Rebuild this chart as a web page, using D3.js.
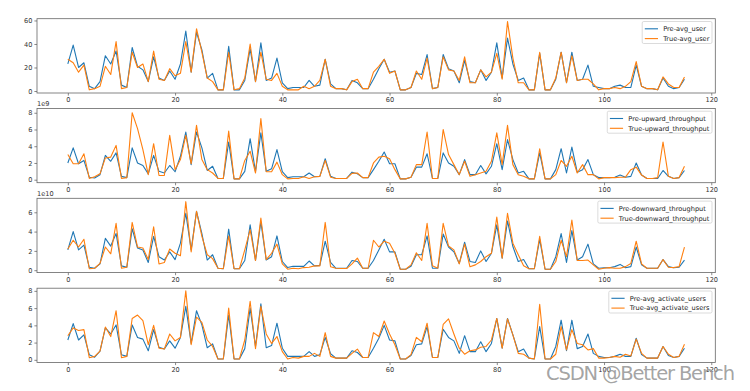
<!DOCTYPE html>
<html><head><meta charset="utf-8">
<script src="https://cdn.jsdelivr.net/npm/d3@7"></script>
<style>body{margin:0;background:#fff}svg{display:block}text{font-family:"DejaVu Sans",sans-serif}</style>
</head><body><svg id="c" width="750" height="391"></svg>
<script>
const preAvgUser = [23,39,20,24,4,2,8,30,23,34, 5,3,37,21,18,8,29,11,9,17, 10,23,51,16,50,35,11,15,1,1, 38,1,1,9,36,8,41,9,11,28, 7,2,3,3,3,9,4,5,27,6, 2,2,1,9,7,2,2,10,19,27, 16,17,1,1,3,15,14,31,2,3, 31,19,17,7,26,8,7,18,9,16, 41,11,45,23,9,11,1,1,32,1, 1,10,33,7,33,9,10,22,4,3, 2,2,4,5,3,3,22,4,2,2, 1,11,4,2,3,10];
const trueAvgUser = [27,24,16,22,1,2,4,21,14,42, 2,3,33,20,23,8,34,10,9,19, 13,15,42,16,53,33,11,8,1,1, 33,1,2,11,40,8,33,10,9,15, 4,1,1,1,4,2,4,9,27,4, 2,2,1,8,10,2,2,16,21,27, 15,17,1,1,3,17,10,28,2,3, 29,18,17,9,29,7,7,18,12,16, 32,10,59,28,7,7,1,1,33,1, 1,11,33,7,30,9,10,10,6,1, 2,2,3,2,4,8,25,4,2,2, 1,12,6,3,3,12];
const preUpward = [2.0,3.8,1.9,2.3,0.3,0.2,0.6,2.9,2.2,3.2, 0.4,0.25,3.8,2.0,1.7,0.7,2.9,1.0,0.8,1.7, 0.95,2.8,5.7,1.8,5.7,3.8,1.1,1.6,0.15,0.15, 4.5,0.1,0.1,1.0,4.9,0.95,5.6,1.0,1.3,3.6, 0.95,0.25,0.35,0.35,0.35,0.8,0.35,0.4,2.5,0.4, 0.15,0.15,0.15,0.9,0.7,0.25,0.25,1.2,2.2,3.3, 1.9,1.9,0.1,0.1,0.3,1.5,1.5,3.1,0.15,0.15, 3.2,2.0,1.6,0.6,2.4,0.6,0.6,1.7,0.7,1.6, 4.3,1.2,4.8,2.4,0.8,1.0,0.1,0.1,3.2,0.1, 0.1,1.2,3.7,0.8,3.9,0.9,1.2,2.4,0.6,0.25, 0.25,0.25,0.3,0.55,0.3,0.4,2.0,0.55,0.15,0.15, 0.15,1.1,0.4,0.15,0.25,1.1];
const trueUpward = [3.0,1.9,1.9,3.1,0.15,0.35,0.7,2.6,2.7,4.1, 0.15,0.25,8.0,6.1,3.6,0.6,4.3,0.5,0.5,5.3, 1.2,2.4,5.3,1.9,6.5,2.4,1.2,0.8,0.15,0.15, 5.8,0.1,0.1,2.3,3.4,0.8,7.3,0.95,0.95,2.1, 0.6,0.1,0.15,0.15,0.35,0.15,0.35,0.4,2.3,0.3, 0.15,0.15,0.15,0.75,0.8,0.25,0.25,2.0,2.7,2.8, 2.5,1.2,0.1,0.1,0.3,1.8,1.8,5.7,0.15,0.15, 6.0,3.0,1.8,0.6,2.2,0.4,0.6,0.8,1.0,2.2, 5.6,1.8,6.5,1.8,0.6,0.4,0.1,0.1,3.7,0.1, 0.1,0.6,2.3,1.6,2.8,0.8,1.8,0.6,0.6,0.1, 0.25,0.25,0.25,0.3,0.3,1.2,1.5,0.55,0.15,0.15, 0.25,4.5,0.4,0.15,0.25,1.6];
const preDownward = [2.1,4.0,2.1,2.6,0.3,0.2,0.65,3.3,2.5,3.8, 0.45,0.3,4.3,2.3,2.1,0.8,3.5,1.4,1.05,1.9, 1.1,2.8,5.9,2.1,6.1,3.8,1.05,1.6,0.2,0.15, 4.25,0.15,0.15,1.0,4.7,1.0,5.0,1.05,1.4,3.55, 0.9,0.27,0.4,0.4,0.4,0.95,0.45,0.5,3.0,0.8, 0.2,0.2,0.2,1.0,0.9,0.2,0.2,1.0,2.1,3.2, 1.9,1.9,0.1,0.1,0.4,1.6,1.6,3.55,0.2,0.2, 3.75,2.4,1.9,0.7,2.9,0.9,0.8,2.0,0.9,1.75, 4.7,1.25,5.1,2.45,0.9,1.1,0.15,0.15,3.2,0.1, 0.1,1.4,3.8,0.8,4.1,1.05,1.4,2.7,0.65,0.2, 0.25,0.25,0.37,0.6,0.25,0.37,2.4,0.55,0.2,0.2, 0.2,1.1,0.37,0.25,0.3,1.05];
const trueDownward = [2.2,3.1,2.4,3.2,0.15,0.2,0.7,2.4,1.7,4.85, 0.2,0.3,4.95,2.4,2.3,1.1,4.5,0.65,0.8,2.2, 1.75,1.5,7.1,1.9,6.1,3.5,1.6,1.2,0.2,0.15, 3.55,0.15,0.15,2.1,4.2,1.0,5.4,1.1,1.75,2.7, 0.65,0.1,0.2,0.15,0.27,0.3,0.45,0.45,4.95,0.35, 0.2,0.17,0.17,0.65,1.25,0.2,0.2,3.1,2.4,3.0, 2.8,1.75,0.1,0.1,0.55,1.8,1.0,4.85,0.45,0.2, 4.85,2.5,2.1,0.65,2.7,0.35,0.55,0.9,1.4,1.75, 5.5,1.25,5.9,2.8,1.6,0.45,0.15,0.15,3.5,0.1, 0.1,0.9,3.1,1.4,5.2,1.0,1.0,1.05,0.55,0.1, 0.2,0.27,0.2,0.2,0.37,0.7,3.0,0.65,0.2,0.2, 0.2,1.1,0.3,0.27,0.37,2.4];
const preActivate = [2.3,4.2,2.3,2.9,0.6,0.3,1.0,3.7,3.0,4.05, 0.6,0.4,4.05,2.6,2.4,1.05,3.5,1.45,1.25,2.2, 1.35,2.6,6.2,1.9,5.7,4.05,1.4,1.85,0.1,0.1, 5.2,0.1,0.1,1.3,6.0,1.55,6.5,1.4,1.65,4.25, 1.35,0.4,0.4,0.4,0.4,0.95,0.4,0.6,2.6,0.7, 0.2,0.2,0.2,1.05,0.85,0.27,0.27,1.35,2.5,4.0, 2.3,2.2,0.1,0.1,0.5,1.75,1.85,3.85,0.27,0.27, 3.55,2.6,2.2,0.75,2.8,0.95,0.95,2.1,0.95,1.9, 4.8,1.35,4.8,2.9,0.95,1.25,0.2,0.1,3.85,0.1, 0.1,1.55,4.6,1.05,4.6,1.3,1.55,3.0,0.75,0.4, 0.27,0.27,0.4,0.65,0.4,0.4,2.5,0.6,0.2,0.2, 0.2,1.55,0.5,0.27,0.4,1.35];
const trueActivate = [2.8,3.7,3.4,3.5,0.25,0.4,1.0,3.8,2.7,5.7, 0.25,0.4,4.8,5.2,4.55,1.75,4.0,1.35,1.25,3.0, 2.2,2.6,8.0,1.75,4.95,4.35,2.3,1.55,0.1,0.1, 6.0,0.1,0.1,2.3,6.8,1.3,6.2,3.0,1.9,2.7, 0.95,0.1,0.27,0.2,0.4,0.4,0.75,0.4,3.15,0.4, 0.2,0.2,0.2,0.75,1.25,0.27,0.27,3.15,2.7,4.5, 3.0,1.75,0.1,0.1,0.6,2.6,2.1,4.25,0.27,0.27, 4.1,4.75,3.0,1.35,0.65,1.05,1.15,1.45,1.55,2.3, 4.8,1.35,4.75,2.9,0.75,0.65,0.2,0.1,6.45,0.1, 0.1,0.65,3.85,1.15,3.5,1.9,1.75,1.15,1.3,0.2, 0.2,0.27,0.4,0.3,0.65,0.45,2.4,0.75,0.2,0.2, 0.2,1.55,0.65,0.27,0.4,1.8];

const xTicks = [0,20,40,60,80,100,120];
const yTicksUser = [0,20,40,60];
const yTicksUp = [0,2,4,6,8];
const yTicksDown = [0,2,4,6];
const yTicksAct = [0,2,4,6,8];
const labels = [["Pre-avg_user","True-avg_user"],["Pre-upward_throughput","True-upward_throughput"],["Pre-downward_throughput","True-downward_throughput"],["Pre-avg_activate_users","True-avg_activate_users"]];
const offsets = [null,"1e9","1e10",null];

const panels = [
  {pre:preAvgUser, tru:trueAvgUser, yTicks:yTicksUser, domain:[-1.7,61.5], top:18.7},
  {pre:preUpward, tru:trueUpward, yTicks:yTicksUp, domain:[-0.36,8.52], top:108.4},
  {pre:preDownward, tru:trueDownward, yTicks:yTicksDown, domain:[-0.25,7.45], top:198.3},
  {pre:preActivate, tru:trueActivate, yTicks:yTicksAct, domain:[-0.31,8.31], top:288.2}
];
const H = 74.3, L = 37, R = 715.3;
const BLUE = "#1f77b4", ORANGE = "#ff7f0e";
const FS = 6.6;
const svg = d3.select("#c");
const x = d3.scaleLinear().domain([-5.75,120.75]).range([L,R]);

panels.forEach((p,k)=>{
  const y = d3.scaleLinear().domain(p.domain).range([p.top+H, p.top]);
  const g = svg.append("g");
  const line = d3.line().x((d,i)=>x(i)).y(d=>y(d));
  g.append("path").datum(p.pre).attr("d",line).attr("fill","none").attr("stroke",BLUE).attr("stroke-width",1.1).attr("stroke-linejoin","round");
  g.append("path").datum(p.tru).attr("d",line).attr("fill","none").attr("stroke",ORANGE).attr("stroke-width",1.1).attr("stroke-linejoin","round");
  // axes
  const xa = g.append("g").attr("transform",`translate(0,${p.top+H})`)
    .call(d3.axisBottom(x).tickValues(xTicks).tickSize(2.6).tickPadding(2).tickFormat(d3.format("d")));
  const ya = g.append("g").attr("transform",`translate(${L},0)`)
    .call(d3.axisLeft(y).tickValues(p.yTicks).tickSize(2.6).tickPadding(2).tickFormat(d3.format("d")));
  [xa,ya].forEach(a=>{
    a.select(".domain").remove();
    a.selectAll("line").attr("stroke","#555").attr("stroke-width",0.7);
    a.selectAll("text").attr("font-size",FS).attr("fill","#333").attr("font-family","DejaVu Sans");
  });
  g.append("rect").attr("x",L).attr("y",p.top).attr("width",R-L).attr("height",H)
    .attr("fill","none").attr("stroke","#666").attr("stroke-width",0.8);
  if(offsets[k]) g.append("text").attr("x",L).attr("y",p.top-2.5).attr("font-size",FS).attr("fill","#333").text(offsets[k]);
  // legend
  const lg = g.append("g");
  const texts = labels[k].map((t,j)=>lg.append("text").attr("font-size",FS).attr("fill","#222").text(t));
  const tw = d3.max(texts.map(t=>t.node().getComputedTextLength()));
  const pad = 2.6, hl = 13.2, gap = 5.2;
  const bw = pad*2 + hl + gap + tw, bh = 22;
  const bx = R - 3.3 - bw, by = p.top + 2.8;
  lg.insert("rect","text").attr("x",bx).attr("y",by).attr("width",bw).attr("height",bh).attr("rx",1.5)
    .attr("fill","#fff").attr("fill-opacity",0.8).attr("stroke","#ccc").attr("stroke-width",0.7);
  [BLUE,ORANGE].forEach((c,j)=>{
    const cy = by + 7.3 + j*9.8;
    lg.append("line").attr("x1",bx+pad).attr("x2",bx+pad+hl).attr("y1",cy).attr("y2",cy).attr("stroke",c).attr("stroke-width",1.1);
    texts[j].attr("x",bx+pad+hl+gap).attr("y",cy).attr("dy","0.35em");
  });
});

svg.append("text").attr("x",546).attr("y",380).attr("font-family","Liberation Sans, Arial, sans-serif")
  .attr("font-size",19.5).attr("fill","#999").attr("fill-opacity",0.9).attr("textLength",189).text("CSDN @Better Bench");
</script></body></html>
